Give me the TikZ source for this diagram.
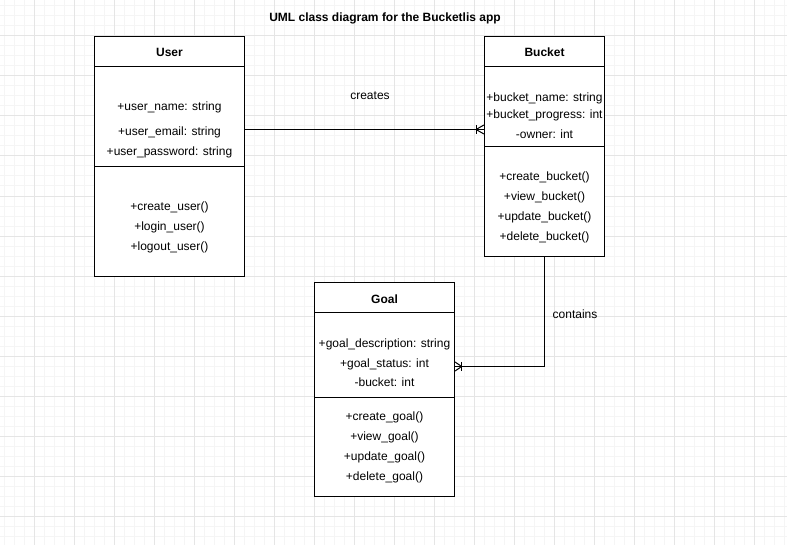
\documentclass[tikz,border=0pt]{standalone}
\usepackage{fontspec}
\setmainfont{Liberation Sans}
\begin{document}
\begin{tikzpicture}[x=0.75pt,y=-0.75pt,
    minorgrid/.style={draw=black!4,line width=0.75pt},
    majorgrid/.style={draw=black!10,line width=0.75pt},
    classbox/.style={draw,line width=0.75pt,fill=white,inner sep=0pt},
    classname/.style={font=\fontsize{9}{11}\selectfont\bfseries,inner sep=0pt,yshift=-0.75pt},
    member/.style={font=\fontsize{9}{11}\selectfont,inner sep=0pt,yshift=-0.75pt},
    link/.style={draw,line width=0.75pt}]
  \useasboundingbox (0,0) rectangle (787,545);
  % grid
  \foreach \x in {4,14,...,784} \draw[minorgrid] (\x,0) -- (\x,545);
  \foreach \y in {6,16,...,536} \draw[minorgrid] (0,\y) -- (787,\y);
  \foreach \x in {34,74,...,754} \draw[majorgrid] (\x,0) -- (\x,545);
  \foreach \y in {36,76,...,516} \draw[majorgrid] (0,\y) -- (787,\y);
  \node[classname] (title) at (385,17) {UML class diagram for the Bucketlis app};
  % User
  \node[classbox,minimum width=112.5pt,minimum height=180pt] (user) at (169.5,156.5) {};
  \draw (user.west |- 0,66.5) -- (user.east |- 0,66.5);
  \draw (user.west |- 0,166.5) -- (user.east |- 0,166.5);
  \node[classname] (usertitle) at (169.5,51.5) {User};
  \node[member] (uname) at (169.5,106) {+user\_name: string};
  \node[member] (uemail) at (169.5,131) {+user\_email: string};
  \node[member] (upass) at (169.5,151) {+user\_password: string};
  \node[member] (ucreate) at (169.5,206) {+create\_user()};
  \node[member] (ulogin) at (169.5,226) {+login\_user()};
  \node[member] (ulogout) at (169.5,246) {+logout\_user()};
  % Bucket
  \node[classbox,minimum width=90pt,minimum height=165pt] (bucket) at (544.5,146.5) {};
  \draw (bucket.west |- 0,66.5) -- (bucket.east |- 0,66.5);
  \draw (bucket.west |- 0,146.5) -- (bucket.east |- 0,146.5);
  \node[classname] (buckettitle) at (544.5,51.5) {Bucket};
  \node[member] (bname) at (544.5,97) {+bucket\_name: string};
  \node[member] (bprog) at (544.5,114) {+bucket\_progress: int};
  \node[member] (bowner) at (544.5,133) {-owner: int};
  \node[member] (bcreate) at (544.5,176) {+create\_bucket()};
  \node[member] (bview) at (544.5,196) {+view\_bucket()};
  \node[member] (bupdate) at (544.5,216) {+update\_bucket()};
  \node[member] (bdelete) at (544.5,236) {+delete\_bucket()};
  % Goal
  \node[classbox,minimum width=105pt,minimum height=160.5pt] (goal) at (384.5,389.5) {};
  \draw (goal.west |- 0,312.5) -- (goal.east |- 0,312.5);
  \draw (goal.west |- 0,397.5) -- (goal.east |- 0,397.5);
  \node[classname] (goaltitle) at (384.5,298) {Goal};
  \node[member] (gdesc) at (384.5,343) {+goal\_description: string};
  \node[member] (gstatus) at (384.5,363) {+goal\_status: int};
  \node[member] (gbucket) at (384.5,381) {-bucket: int};
  \node[member] (gcreate) at (384.5,416) {+create\_goal()};
  \node[member] (gview) at (384.5,436) {+view\_goal()};
  \node[member] (gupdate) at (384.5,456) {+update\_goal()};
  \node[member] (gdelete) at (384.5,476) {+delete\_goal()};
  % creates
  \coordinate (createsend) at (bucket.west |- 0,129.5);
  \draw[link] (user.east |- createsend) -- (createsend);
  \draw[link] ([xshift=-6pt]createsend) -- ([yshift=3.4pt]createsend);
  \draw[link] ([xshift=-6pt]createsend) -- ([yshift=-3.4pt]createsend);
  \draw[link] ([xshift=-6pt,yshift=3.4pt]createsend) -- ([xshift=-6pt,yshift=-3.4pt]createsend);
  \node[member] (createslabel) at (370,95) {creates};
  % contains
  \coordinate (containsend) at (goal.east |- 0,366.5);
  \draw[link] (bucket.south) |- (containsend);
  \draw[link] ([xshift=5pt]containsend) -- ([yshift=3.4pt]containsend);
  \draw[link] ([xshift=5pt]containsend) -- ([yshift=-3.4pt]containsend);
  \draw[link] ([xshift=5pt,yshift=3.4pt]containsend) -- ([xshift=5pt,yshift=-3.4pt]containsend);
  \node[member] (containslabel) at (575,313) {contains};
\end{tikzpicture}
\end{document}
